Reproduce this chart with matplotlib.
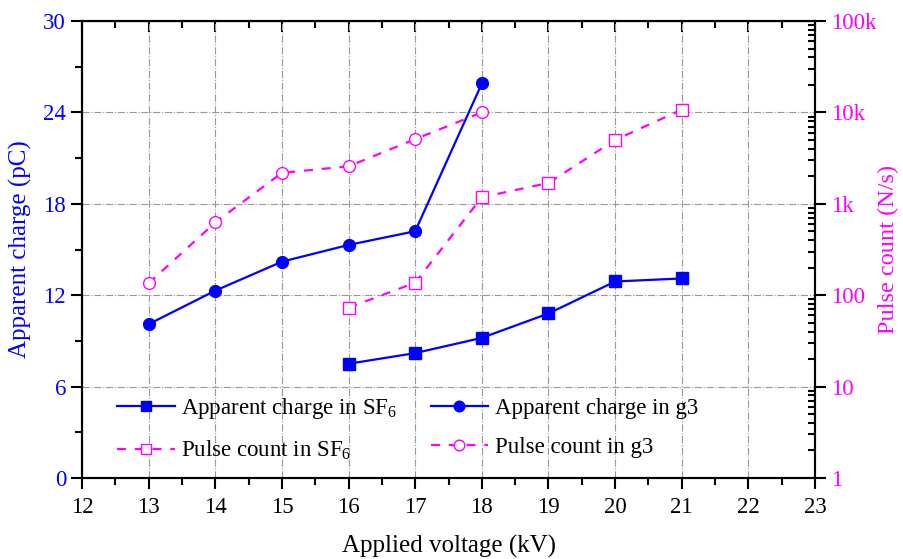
import numpy as np
import matplotlib
matplotlib.use("Agg")
import matplotlib.pyplot as plt
from matplotlib.ticker import MultipleLocator, LogLocator, NullFormatter

plt.rcParams["font.family"] = ["Liberation Serif", "DejaVu Serif"]
plt.rcParams["mathtext.fontset"] = "custom"
plt.rcParams["mathtext.rm"] = "Liberation Serif"
plt.rcParams["mathtext.it"] = "Liberation Serif:italic"

# data
v_sf6 = [16, 17, 18, 19, 20, 21]
q_sf6 = [7.5, 8.2, 9.2, 10.8, 12.9, 13.1]
v_g3 = [13, 14, 15, 16, 17, 18]
q_g3 = [10.1, 12.3, 14.2, 15.3, 16.2, 25.9]
n_sf6 = [73, 137, 1180, 1690, 5000, 10700]
n_g3 = [135, 626, 2180, 2570, 5100, 10000]

right_ticks = [1, 10, 100, 1e3, 1e4, 1e5]
right_labels = ["1", "10", "100", "1k", "10k", "100k"]

blue = "#0000FF"
mag = "#FF00FF"

fig = plt.figure(figsize=(9.04, 5.59), dpi=100)
ax = fig.add_axes([0.0907, 0.1449, 0.8109, 0.8175])
ax2 = ax.twinx()

# charge (left axis)
l1, = ax.plot(v_sf6, q_sf6, "-s", color=blue, lw=1.6, ms=8, label="Apparent charge in SF$_6$")
l2, = ax.plot(v_g3, q_g3, "-o", color=blue, lw=1.6, ms=8.5, label="Apparent charge in g3")

# pulse count (right axis)
l3, = ax2.plot(v_sf6, n_sf6, "--s", color=mag, lw=1.6, ms=8, mfc="white", mec=mag,
               mew=1.0, dashes=(4, 4), label="Pulse count in SF$_6$")
l4, = ax2.plot(v_g3, n_g3, "--o", color=mag, lw=1.6, ms=8.5, mfc="white", mec=mag,
               mew=1.0, dashes=(4, 4), label="Pulse count in g3")

ax.set_xlim(12, 23)
ax.set_ylim(0, 30)
ax.xaxis.set_major_locator(MultipleLocator(1))
ax.xaxis.set_minor_locator(MultipleLocator(0.5))
ax.yaxis.set_major_locator(MultipleLocator(6))
ax.yaxis.set_minor_locator(MultipleLocator(3))

ax2.set_yscale("log")
ax2.set_ylim(1, 1e5)
ax2.set_yticks(right_ticks)
ax2.set_yticklabels(right_labels)
ax2.yaxis.set_minor_locator(LogLocator(base=10, subs=np.arange(2, 10)))
ax2.yaxis.set_minor_formatter(NullFormatter())

ax.grid(True, which="major", color="#999999", linestyle="-.", lw=0.8)

ax.tick_params(axis="x", which="major", direction="out", length=8, width=1.5,
               labelsize=16.5, pad=6, top=False, colors="black")
ax.tick_params(axis="x", which="minor", direction="out", length=5, width=1.5, top=False)
ax.tick_params(axis="y", which="major", direction="out", length=8, width=1.5,
               labelsize=16.5, labelcolor=blue)
ax.tick_params(axis="y", which="minor", direction="out", length=5, width=1.5)
ax2.tick_params(axis="y", which="major", direction="out", length=8, width=1.5,
                labelsize=16.5, labelcolor=mag)
ax2.tick_params(axis="y", which="minor", direction="in", length=5, width=1.5)

# top ticks pointing inward
top = ax.secondary_xaxis("top")
top.xaxis.set_major_locator(MultipleLocator(1))
top.xaxis.set_minor_locator(MultipleLocator(0.5))
top.tick_params(which="major", direction="in", length=8, width=1.5, labeltop=False)
top.tick_params(which="minor", direction="in", length=5, width=1.5)

for a in (ax, ax2):
    for s in a.spines.values():
        s.set_linewidth(1.5)

ax.set_xlabel("Applied voltage (kV)", fontsize=18, labelpad=12)
ax.set_ylabel("Apparent charge (pC)", fontsize=18, color=blue, labelpad=8)
ax2.set_ylabel("Pulse count (N/s)", fontsize=17.5, color=mag, labelpad=1)

handles = [l1, l3, l2, l4]
ax2.legend(handles, [h.get_label() for h in handles],
           ncol=2, loc="lower left", bbox_to_anchor=(0.02, -0.01), frameon=False,
           fontsize=16.5, handlelength=2.5, handletextpad=0.3, columnspacing=1.45,
           labelspacing=0.75, markerscale=0.9)

fig.savefig("out.png", dpi=100)
